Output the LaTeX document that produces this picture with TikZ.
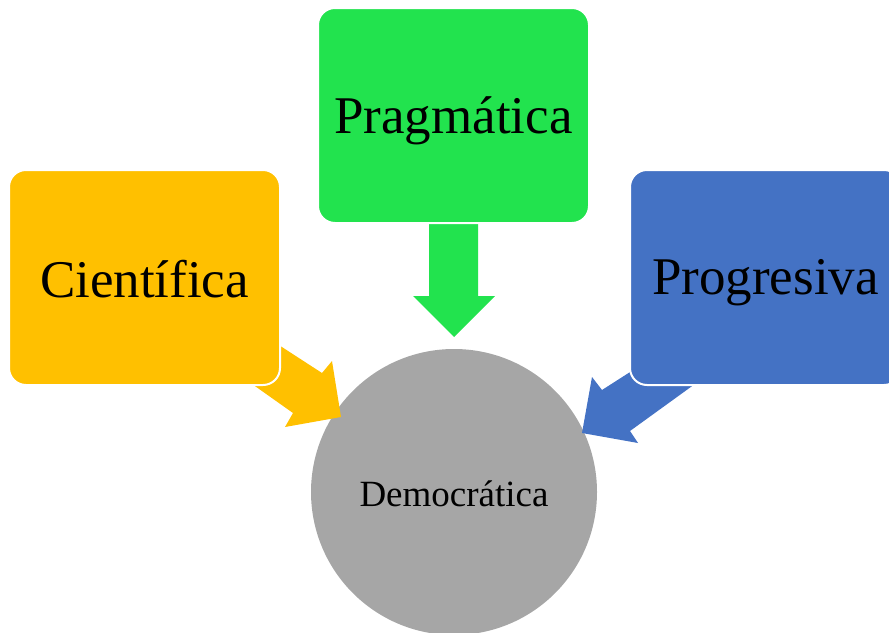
\documentclass[tikz,border=0pt]{standalone}
\usepackage{fontspec}
\setmainfont{Liberation Serif}
\definecolor{cOrange}{RGB}{255,192,0}
\definecolor{cGreen}{RGB}{34,227,78}
\definecolor{cBlue}{RGB}{68,114,196}
\definecolor{cGray}{RGB}{166,166,166}
\tikzset{
  box/.style={rounded corners=17pt, draw=white, line width=2pt, minimum width=271pt, minimum height=215pt, inner sep=0pt, text=black, font=\fontsize{53}{60}\selectfont}
}
\newcommand{\lowr}[2]{\raisebox{-#1}[\height][\depth]{#2}}
\begin{document}
\begin{tikzpicture}[x=1pt,y=-1pt]
\clip (0,0) rectangle (889,632);
\useasboundingbox (0,0) rectangle (889,632);
% circle
\node[circle, fill=cGray, minimum size=286pt, inner sep=0pt, font=\fontsize{37}{42}\selectfont] (demo) at (454,492) {\lowr{2pt}{Democrática}};
% arrows
\fill[cGreen] (429,220) -- (478,220) -- (478,296) -- (495,296) -- (454,337) -- (413,296) -- (429,296) -- cycle;
\fill[cOrange] (268,338) -- (322,373) -- (332,361) -- (341,417) -- (285,427) -- (293,413) -- (245,379) -- cycle;
\fill[cBlue] (652,358) -- (602,390) -- (592,377) -- (582,433) -- (638,443) -- (630,431) -- (706,376) -- cycle;
% boxes
\node[box, fill=cOrange] (cien) at (144.5,277.5) {\lowr{2pt}{Científica}};
\node[box, fill=cGreen] (prag) at (453.5,115.5) {\lowr{5pt}{Pragmática}};
\node[box, fill=cBlue] (prog) at (765.5,277.5) {\lowr{5pt}{Progresiva}};
\end{tikzpicture}
\end{document}
